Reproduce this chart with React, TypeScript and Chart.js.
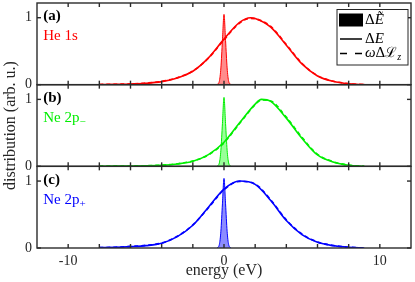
import React, { useEffect, useRef } from 'react';
import { Chart, registerables } from 'chart.js';

Chart.register(...registerables);

// ---- data ----
const xLabelTicks = [-10, 0, 10];
const xMinorTicks = [-10, -8, -6, -4, -2, 0, 2, 4, 6, 8, 10];
const yTicks = [0, 1];

// panel (a) He 1s
const energyA = [-8, -7, -6, -5, -4, -3, -2, -1, 0, 1, 1.7, 2, 3, 4, 5, 6, 7, 8, 9];
const deltaEA = [0.002, 0.005, 0.01, 0.02, 0.045, 0.1, 0.2, 0.4, 0.68, 0.93, 1.0, 0.99, 0.86, 0.59, 0.31, 0.13, 0.05, 0.013, 0];
const lzA = [0.003, 0.006, 0.012, 0.024, 0.05, 0.105, 0.205, 0.395, 0.67, 0.92, 0.99, 0.985, 0.87, 0.6, 0.32, 0.135, 0.052, 0.015, 0.002];

// panel (b) Ne 2p-
const energyB = [-8, -7, -6, -5, -4, -3, -2, -1, 0, 1, 2, 2.4, 3, 4, 5, 6, 7, 8, 9];
const deltaEB = [0.002, 0.003, 0.005, 0.008, 0.015, 0.035, 0.075, 0.175, 0.36, 0.65, 0.93, 1.0, 0.97, 0.72, 0.42, 0.17, 0.065, 0.015, 0];
const lzB = [0.003, 0.004, 0.006, 0.01, 0.018, 0.038, 0.08, 0.17, 0.35, 0.64, 0.92, 0.99, 0.975, 0.735, 0.435, 0.18, 0.07, 0.018, 0.002];

// panel (c) Ne 2p+
const energyC = [-8, -7, -6, -5, -4, -3, -2, -1, 0, 1, 2, 3, 4, 5, 6, 7, 8, 9];
const deltaEC = [0.005, 0.01, 0.02, 0.035, 0.07, 0.17, 0.34, 0.61, 0.88, 1.0, 0.95, 0.71, 0.41, 0.2, 0.085, 0.035, 0.01, 0];
const lzC = [0.006, 0.012, 0.024, 0.04, 0.075, 0.175, 0.345, 0.6, 0.87, 0.995, 0.955, 0.72, 0.42, 0.21, 0.09, 0.038, 0.012, 0.001];

// narrow peaks (Delta E tilde)
const spikeEnergy = [-0.45, -0.3, -0.2, -0.1, 0, 0.1, 0.2, 0.3, 0.45];
const spikeA = [0, 0.05, 0.25, 0.66, 1.05, 0.66, 0.25, 0.05, 0];
const spikeB = [0, 0.05, 0.24, 0.64, 1.03, 0.64, 0.24, 0.05, 0];
const spikeC = [0, 0.05, 0.25, 0.66, 1.04, 0.66, 0.25, 0.05, 0];

const SERIF = "'Liberation Serif', 'DejaVu Serif', serif";
const AXIS = '#2b2b2b';

const toPts = (xs: number[], ys: number[]) => xs.map((x, i) => ({ x, y: ys[i] }));

const panels = [
  { id: 'ya', color: '#ff0000', fill: 'rgba(255,0,0,0.45)', e: energyA, dE: deltaEA, lz: lzA, spike: spikeA, tag: '(a)', name: 'He 1s', sub: '' },
  { id: 'yb', color: '#00ee00', fill: 'rgba(0,255,0,0.4)', e: energyB, dE: deltaEB, lz: lzB, spike: spikeB, tag: '(b)', name: 'Ne 2p', sub: '\u2212' },
  { id: 'yc', color: '#0000ff', fill: 'rgba(0,0,255,0.45)', e: energyC, dE: deltaEC, lz: lzC, spike: spikeC, tag: '(c)', name: 'Ne 2p', sub: '+' },
];

function drawParts(ctx: CanvasRenderingContext2D, parts: { t: string; font: string; dy?: number }[], x: number, y: number) {
  let cx = x;
  for (const p of parts) {
    ctx.font = p.font;
    ctx.fillText(p.t, cx, y + (p.dy || 0));
    cx += ctx.measureText(p.t).width;
  }
}

const decorPlugin = {
  id: 'decor',
  afterDatasetsDraw(chart: any) {
    const { ctx, chartArea } = chart;
    const { left, right, top, bottom } = chartArea;
    const xs = chart.scales.x;
    ctx.save();
    ctx.strokeStyle = AXIS;
    ctx.lineWidth = 1.4;
    const line = (x1: number, y1: number, x2: number, y2: number) => {
      ctx.beginPath();
      ctx.moveTo(x1, y1);
      ctx.lineTo(x2, y2);
      ctx.stroke();
    };
    panels.forEach((p) => {
      const s = chart.scales[p.id];
      ctx.strokeRect(left, s.top, right - left, s.bottom - s.top);
      xMinorTicks.forEach((v) => {
        const px = xs.getPixelForValue(v);
        line(px, s.top, px, s.top + 4);
        line(px, s.bottom, px, s.bottom - 4);
      });
      yTicks.forEach((v) => {
        const py = s.getPixelForValue(v);
        line(left, py, left + 4, py);
        line(right, py, right - 4, py);
      });
    });

    // panel labels
    ctx.textBaseline = 'middle';
    ctx.textAlign = 'left';
    panels.forEach((p) => {
      const s = chart.scales[p.id];
      const lx = xs.getPixelForValue(-11.6);
      ctx.fillStyle = '#000';
      ctx.font = `bold 15px ${SERIF}`;
      ctx.fillText(p.tag, lx, s.getPixelForValue(1.02));
      ctx.fillStyle = p.color;
      const ny = s.getPixelForValue(0.72);
      const parts: { t: string; font: string; dy?: number }[] = [{ t: p.name, font: `15px ${SERIF}` }];
      if (p.sub) parts.push({ t: p.sub, font: `11px ${SERIF}`, dy: 4 });
      drawParts(ctx, parts, lx, ny);
    });

    // axis titles
    ctx.fillStyle = '#262626';
    ctx.textAlign = 'center';
    ctx.font = `16px ${SERIF}`;
    ctx.fillText('energy (eV)', (left + right) / 2, 271);
    ctx.save();
    ctx.translate(11, (top + bottom) / 2);
    ctx.rotate(-Math.PI / 2);
    ctx.fillText('distribution (arb. u.)', 0, 0);
    ctx.restore();

    // legend
    const bx = right - 74;
    const by = top + 6.5;
    const bw = 71;
    const bh = 55.5;
    ctx.fillStyle = '#fff';
    ctx.fillRect(bx, by, bw, bh);
    ctx.lineWidth = 1;
    ctx.strokeStyle = '#262626';
    ctx.strokeRect(bx, by, bw, bh);
    ctx.fillStyle = '#000';
    ctx.fillRect(bx + 2, by + 4, 24, 13);
    ctx.strokeStyle = '#000';
    ctx.lineWidth = 1.5;
    line(bx + 3, by + 29.5, bx + 25, by + 29.5);
    ctx.setLineDash([7, 8]);
    line(bx + 3, by + 44, bx + 25, by + 44);
    ctx.setLineDash([]);
    ctx.fillStyle = '#000';
    ctx.textAlign = 'left';
    const up = `15px ${SERIF}`;
    const it = `italic 15px ${SERIF}`;
    drawParts(ctx, [{ t: '\u0394', font: up }, { t: '\u1EBC', font: it }], bx + 28, by + 11);
    drawParts(ctx, [{ t: '\u0394', font: up }, { t: 'E', font: it }], bx + 28, by + 30);
    drawParts(ctx, [{ t: '\u03C9', font: it }, { t: '\u0394', font: up }, { t: '\u2112', font: `14px 'DejaVu Serif', serif` }, { t: 'z', font: `italic 10px ${SERIF}`, dy: 4 }], bx + 28, by + 44);
    ctx.restore();
  },
};

const yScale = (w: number) => ({
  type: 'linear' as const,
  position: 'left' as const,
  stack: 'panels',
  stackWeight: 1,
  weight: w,
  min: 0,
  max: 1.22,
  grid: { display: false, drawTicks: false },
  border: { display: false },
  ticks: { font: { family: SERIF, size: 14 }, color: '#262626', padding: 5 },
  afterBuildTicks: (s: any) => {
    s.ticks = yTicks.map((v) => ({ value: v }));
  },
  afterFit: (s: any) => {
    s.width = 37;
    s.paddingTop = 0;
    s.paddingBottom = 0;
  },
});

export default function App() {
  const ref = useRef<HTMLCanvasElement>(null);
  useEffect(() => {
    const canvas = ref.current!;
    const datasets: any[] = [];
    panels.forEach((p) => {
      datasets.push({
        label: 'dE',
        data: toPts(p.e, p.dE),
        yAxisID: p.id,
        borderColor: p.color,
        borderWidth: 1.6,
        pointRadius: 0,
        fill: false,
        cubicInterpolationMode: 'monotone',
        order: 1,
      });
      datasets.push({
        label: 'wLz',
        data: toPts(p.e, p.lz),
        yAxisID: p.id,
        borderColor: p.color,
        borderWidth: 1.6,
        borderDash: [4, 3],
        pointRadius: 0,
        fill: false,
        cubicInterpolationMode: 'monotone',
        order: 2,
      });
      datasets.push({
        label: 'dEt',
        data: toPts(spikeEnergy, p.spike),
        yAxisID: p.id,
        borderColor: p.color,
        backgroundColor: p.fill,
        borderWidth: 1,
        pointRadius: 0,
        fill: 'origin',
        cubicInterpolationMode: 'monotone',
        order: 3,
      });
    });
    const chart = new Chart(canvas, {
      type: 'line',
      data: { datasets },
      options: {
        animation: false,
        responsive: false,
        devicePixelRatio: 1,
        layout: { padding: { top: 3, right: 4, left: 0, bottom: 0 } },
        plugins: { legend: { display: false }, tooltip: { enabled: false } },
        scales: {
          x: {
            type: 'linear',
            position: 'bottom',
            min: -12,
            max: 12,
            grid: { display: false, drawTicks: false },
            border: { display: false },
            ticks: { font: { family: SERIF, size: 14 }, color: '#262626', padding: 5, maxRotation: 0, autoSkip: false },
            afterBuildTicks: (s: any) => {
              s.ticks = xLabelTicks.map((v) => ({ value: v }));
            },
            afterFit: (s: any) => {
              s.height = 34;
              s.paddingLeft = 0;
              s.paddingRight = 0;
            },
          },
          ya: yScale(3),
          yb: yScale(2),
          yc: yScale(1),
        } as any,
      },
      plugins: [decorPlugin],
    });
    return () => chart.destroy();
  }, []);
  return (
    <div style={{ position: 'absolute', left: 0, top: 0, width: 415, height: 282, background: '#fff' }}>
      <canvas ref={ref} width={415} height={282} style={{ display: 'block', width: 415, height: 282 }} />
    </div>
  );
}
